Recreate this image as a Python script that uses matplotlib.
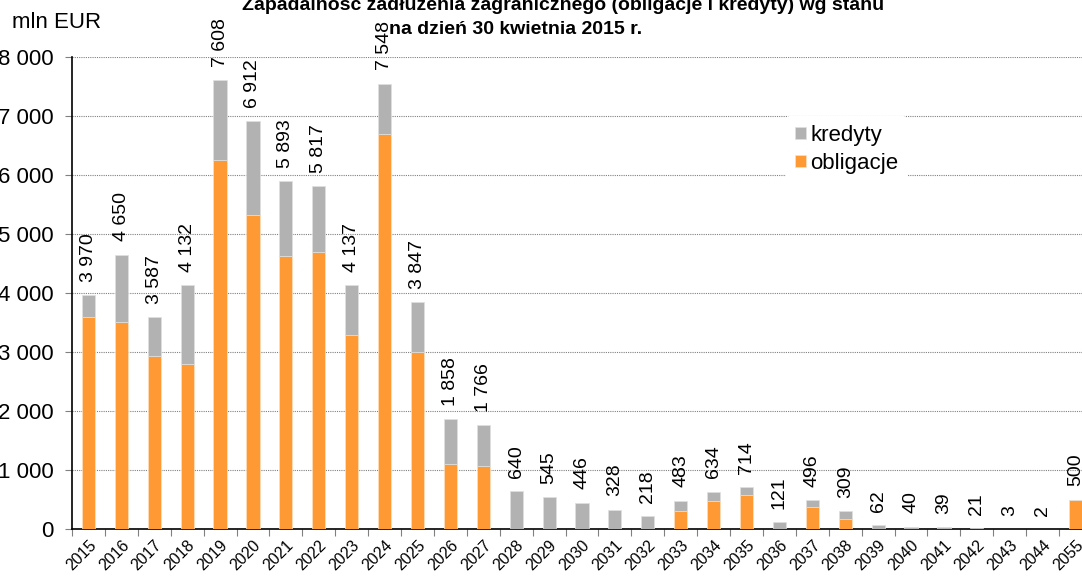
import matplotlib
matplotlib.use("Agg")
import matplotlib.pyplot as plt
import numpy as np

years = [str(y) for y in range(2015, 2045)] + ["2055"]
totals = [3970, 4650, 3587, 4132, 7608, 6912, 5893, 5817, 4137, 7548, 3847,
          1858, 1766, 640, 545, 446, 328, 218, 483, 634, 714, 121, 496, 309,
          62, 40, 39, 21, 3, 2, 500]
obligacje = [3600, 3510, 2930, 2800, 6260, 5320, 4630, 4700, 3280, 6700, 3000,
             1110, 1070, 0, 0, 0, 0, 0, 300, 475, 575, 0, 370, 175,
             0, 0, 0, 0, 0, 0, 500]
kredyty = [t - o for t, o in zip(totals, obligacje)]

c_obl = "#FF9933"
c_kred = "#B2B2B2"

plt.rcParams['font.family'] = ['Liberation Sans', 'DejaVu Sans']

fig = plt.figure(figsize=(10.82, 5.78), dpi=100)
ax = fig.add_axes([72 / 1082, 49 / 578, 1020 / 1082, 472 / 578])

x = np.arange(len(years))
ax.bar(x, obligacje, width=0.4, color=c_obl, edgecolor="#FFE0C0", linewidth=0.5,
       label="obligacje", zorder=3)
ax.bar(x, kredyty, width=0.4, bottom=obligacje, color=c_kred, edgecolor="#E0E0E0",
       linewidth=0.5, label="kredyty", zorder=3)

for xi, t in zip(x, totals):
    ax.annotate(f"{t:,}".replace(",", " "), (xi, t), xytext=(0, 9.5),
                textcoords="offset points", rotation=90, ha="center", va="bottom",
                fontsize=14, zorder=4)

ax.set_xlim(-0.5, len(years) - 0.5)
ax.set_ylim(0, 8000)
ax.set_yticks(range(0, 8001, 1000))
ax.set_yticklabels([f"{v:,}".replace(",", " ") for v in range(0, 8001, 1000)],
                   fontsize=16)
ax.yaxis.grid(True, linestyle=(0, (1, 1)), color="#808080", linewidth=0.8, zorder=0)
ax.tick_params(axis="y", length=5, width=0.8, color="#808080", pad=8.5)

ax.set_xticks(x)
ax.set_xticklabels(years, rotation=45, ha="right", rotation_mode="anchor", fontsize=11.5)
ax.tick_params(axis="x", which="major", length=0, pad=6)
ax.set_xticks(np.arange(-0.5, len(years), 1), minor=True)
ax.tick_params(axis="x", which="minor", length=5, width=0.8, color="#808080")

for s in ["top", "right"]:
    ax.spines[s].set_visible(False)
ax.spines["left"].set_linewidth(1.2)
ax.spines["bottom"].set_linewidth(1.2)

handles, labels = ax.get_legend_handles_labels()
leg = ax.legend(handles[::-1], labels[::-1], loc="upper left",
                bbox_to_anchor=(0.700, 0.875), fontsize=16, frameon=True,
                handlelength=0.5, handleheight=0.5, handletextpad=0.2,
                labelspacing=0.32, borderpad=0.4, borderaxespad=0)
leg.get_frame().set_edgecolor("none")
leg.get_frame().set_facecolor("white")
leg.get_frame().set_alpha(1)

fig.text(12 / 1082, 1 - 22 / 578, "mln EUR", fontsize=16, va="center", ha="left")
fig.text(563 / 1082, 1 - 10 / 578,
         "Zapadalność zadłużenia zagranicznego (obligacje i kredyty) wg stanu",
         fontsize=14, fontweight="bold", ha="center", va="baseline")
fig.text(516 / 1082, 1 - 34 / 578, "na dzień 30 kwietnia 2015 r.",
         fontsize=14, fontweight="bold", ha="center", va="baseline")

fig.savefig("out.png", dpi=100)
